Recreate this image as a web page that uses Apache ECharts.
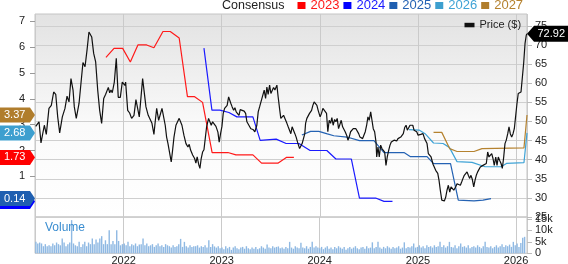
<!DOCTYPE html>
<html>
<head>
<meta charset="utf-8">
<script src="https://cdn.jsdelivr.net/npm/echarts@6/dist/echarts.min.js"></script>
<style>html,body{margin:0;padding:0;background:#fff}#c{width:568px;height:264px}</style>
</head>
<body>
<div id="c"></div>
<script>
// x positions are decimal years (e.g. 2022.5 = mid 2022)
const priceData = [[2021.109,48.7],[2021.143,49.9],[2021.163,44.4],[2021.197,49.0],[2021.217,46.6],[2021.244,53.4],[2021.268,54.2],[2021.292,57.7],[2021.313,57.1],[2021.333,51.2],[2021.353,47.0],[2021.380,51.2],[2021.407,53.4],[2021.428,56.6],[2021.448,55.1],[2021.468,61.2],[2021.489,58.2],[2021.502,53.8],[2021.522,50.8],[2021.550,54.7],[2021.563,54.2],[2021.590,65.4],[2021.611,64.3],[2021.631,68.6],[2021.651,73.4],[2021.665,73.7],[2021.679,72.1],[2021.699,67.8],[2021.719,65.6],[2021.740,58.2],[2021.760,52.9],[2021.780,49.5],[2021.801,56.0],[2021.821,57.1],[2021.848,58.9],[2021.862,57.5],[2021.875,58.2],[2021.888,57.5],[2021.909,60.3],[2021.929,66.5],[2021.949,56.3],[2021.970,56.3],[2021.990,60.3],[2022.004,60.6],[2022.017,59.4],[2022.024,60.3],[2022.045,52.9],[2022.065,52.2],[2022.085,50.8],[2022.109,51.6],[2022.129,55.7],[2022.142,56.0],[2022.163,51.2],[2022.183,51.0],[2022.197,61.2],[2022.211,60.8],[2022.231,53.8],[2022.254,51.6],[2022.272,52.1],[2022.292,49.5],[2022.312,46.6],[2022.325,49.9],[2022.340,53.4],[2022.360,50.3],[2022.373,50.3],[2022.394,53.4],[2022.407,52.9],[2022.427,49.0],[2022.441,45.9],[2022.455,44.2],[2022.468,44.6],[2022.488,39.4],[2022.502,42.5],[2022.516,45.9],[2022.536,49.0],[2022.556,48.6],[2022.569,50.8],[2022.584,50.5],[2022.597,49.0],[2022.617,46.4],[2022.638,44.2],[2022.658,43.3],[2022.671,44.0],[2022.685,42.5],[2022.706,41.2],[2022.726,40.3],[2022.739,39.1],[2022.752,40.7],[2022.767,38.8],[2022.780,37.7],[2022.793,40.3],[2022.807,42.0],[2022.821,42.6],[2022.834,45.5],[2022.848,48.6],[2022.868,50.8],[2022.882,50.3],[2022.895,49.0],[2022.909,49.9],[2022.929,49.5],[2022.943,48.7],[2022.963,47.2],[2022.976,44.6],[2022.990,46.8],[2023.004,48.7],[2023.017,52.1],[2023.031,53.4],[2023.044,52.9],[2023.057,54.2],[2023.072,56.4],[2023.082,56.6],[2023.095,54.7],[2023.108,53.8],[2023.123,52.9],[2023.136,53.6],[2023.149,52.5],[2023.163,52.9],[2023.177,51.6],[2023.190,53.1],[2023.210,52.9],[2023.230,52.7],[2023.245,52.1],[2023.258,49.9],[2023.278,49.0],[2023.298,48.1],[2023.319,47.9],[2023.339,47.3],[2023.359,49.0],[2023.373,52.5],[2023.387,53.8],[2023.407,54.2],[2023.420,56.9],[2023.434,58.2],[2023.448,56.0],[2023.461,59.0],[2023.474,57.1],[2023.489,59.5],[2023.502,57.3],[2023.515,57.7],[2023.529,58.9],[2023.543,58.2],[2023.563,59.5],[2023.576,56.4],[2023.590,53.4],[2023.603,50.8],[2023.617,50.3],[2023.631,51.6],[2023.651,51.2],[2023.665,49.5],[2023.678,48.6],[2023.692,48.1],[2023.705,46.8],[2023.718,48.6],[2023.733,48.1],[2023.746,46.8],[2023.759,45.9],[2023.773,44.6],[2023.794,42.9],[2023.807,42.5],[2023.820,44.2],[2023.834,44.6],[2023.847,46.8],[2023.855,49.5],[2023.868,50.8],[2023.881,50.5],[2023.895,52.1],[2023.916,52.9],[2023.929,54.2],[2023.942,55.1],[2023.956,55.5],[2023.970,54.2],[2023.983,52.9],[2024.003,51.2],[2024.017,52.1],[2024.031,53.4],[2024.051,53.3],[2024.068,52.1],[2024.081,47.3],[2024.095,50.3],[2024.109,49.5],[2024.122,51.0],[2024.135,49.0],[2024.150,50.5],[2024.163,49.9],[2024.176,50.8],[2024.190,48.1],[2024.203,47.7],[2024.217,50.3],[2024.231,48.6],[2024.244,49.0],[2024.257,47.3],[2024.272,46.4],[2024.285,45.1],[2024.298,45.9],[2024.312,47.3],[2024.325,47.7],[2024.339,48.1],[2024.353,47.7],[2024.366,48.1],[2024.379,47.7],[2024.394,46.8],[2024.407,45.9],[2024.420,45.5],[2024.434,45.5],[2024.447,46.4],[2024.461,47.3],[2024.475,49.0],[2024.488,51.2],[2024.501,50.3],[2024.516,52.5],[2024.529,50.3],[2024.542,48.1],[2024.556,47.3],[2024.570,44.6],[2024.577,40.7],[2024.590,43.3],[2024.603,40.7],[2024.617,43.8],[2024.630,42.9],[2024.644,43.3],[2024.658,42.0],[2024.671,38.5],[2024.684,40.7],[2024.699,42.5],[2024.712,43.8],[2024.725,44.6],[2024.739,44.6],[2024.753,45.1],[2024.766,45.5],[2024.780,44.9],[2024.793,45.5],[2024.806,45.3],[2024.821,45.9],[2024.834,45.5],[2024.847,46.8],[2024.861,48.4],[2024.875,49.0],[2024.888,47.7],[2024.902,48.1],[2024.915,49.0],[2024.928,49.5],[2024.943,49.0],[2024.956,47.7],[2024.969,48.1],[2024.983,47.3],[2024.997,46.4],[2025.010,46.8],[2025.024,46.6],[2025.032,47.0],[2025.047,46.8],[2025.063,45.5],[2025.088,44.2],[2025.101,41.6],[2025.115,42.0],[2025.129,40.7],[2025.149,38.8],[2025.162,38.5],[2025.176,37.2],[2025.197,36.4],[2025.210,34.6],[2025.223,32.0],[2025.238,29.4],[2025.251,29.8],[2025.264,29.2],[2025.278,30.2],[2025.291,32.0],[2025.305,33.3],[2025.319,31.5],[2025.332,32.9],[2025.345,33.0],[2025.360,32.0],[2025.380,32.9],[2025.393,33.7],[2025.413,33.9],[2025.427,33.3],[2025.441,34.2],[2025.454,35.1],[2025.467,35.9],[2025.482,36.4],[2025.495,36.8],[2025.508,35.9],[2025.522,35.1],[2025.535,35.9],[2025.549,34.8],[2025.563,32.9],[2025.576,34.6],[2025.589,35.9],[2025.603,36.8],[2025.617,37.2],[2025.630,38.1],[2025.644,37.7],[2025.657,38.5],[2025.671,38.8],[2025.691,39.0],[2025.705,42.0],[2025.718,40.7],[2025.732,40.3],[2025.746,41.6],[2025.759,40.3],[2025.772,38.5],[2025.787,40.7],[2025.800,38.5],[2025.813,40.7],[2025.827,39.8],[2025.841,39.0],[2025.854,37.7],[2025.868,40.7],[2025.881,44.2],[2025.894,45.1],[2025.909,46.8],[2025.922,48.6],[2025.935,46.8],[2025.949,45.9],[2025.963,46.8],[2025.976,48.1],[2025.990,48.6],[2026.003,54.7],[2026.016,57.3],[2026.031,57.7],[2026.044,57.7],[2026.057,57.3],[2026.071,65.2],[2026.085,70.4],[2026.098,72.6],[2026.105,72.92]];

const eps2023 = [[2021.824,5.60],[2021.906,5.95],[2021.994,5.95],[2022.072,5.42],[2022.149,6.08],[2022.238,6.08],[2022.312,5.97],[2022.404,6.60],[2022.478,6.60],[2022.569,6.35],[2022.653,4.08],[2022.726,4.08],[2022.807,3.86],[2022.904,1.92],[2023.065,1.92],[2023.146,1.83],[2023.319,1.83],[2023.407,1.51],[2023.573,1.51],[2023.659,1.73],[2023.736,1.73]];
const eps2024 = [[2022.821,5.96],[2022.902,3.56],[2022.983,3.56],[2023.075,3.47],[2023.156,3.30],[2023.319,3.30],[2023.393,2.39],[2023.556,2.44],[2023.657,2.27],[2023.787,2.27],[2023.901,2.00],[2024.071,2.00],[2024.163,1.67],[2024.320,1.67],[2024.402,0.16],[2024.566,0.16],[2024.651,0.03],[2024.737,0.03]];
const eps2025 = [[2023.817,2.60],[2023.906,2.74],[2023.990,2.74],[2024.076,2.64],[2024.142,2.57],[2024.275,2.52],[2024.402,2.38],[2024.549,2.38],[2024.651,1.92],[2024.854,1.92],[2024.920,1.76],[2025.088,1.76],[2025.154,1.49],[2025.327,1.49],[2025.406,0.08],[2025.566,0.05],[2025.657,0.08],[2025.739,0.14]];
const eps2026 = [[2024.905,2.81],[2025.007,2.79],[2025.068,2.65],[2025.154,2.29],[2025.251,2.27],[2025.315,2.12],[2025.393,1.57],[2025.546,1.54],[2025.678,1.37],[2025.841,1.37],[2025.896,1.50],[2026.074,1.53],[2026.105,2.68]];
const eps2027 = [[2025.154,2.70],[2025.238,2.70],[2025.319,2.07],[2025.393,1.96],[2025.566,1.96],[2025.647,2.07],[2026.074,2.10],[2026.105,3.37]];

const volumeStart = '2021-02-08'; // weekly bars
const volumeK = [5.0,4.3,4.7,4.3,3.1,4.0,3.1,3.5,3.1,4.3,3.5,4.7,4.0,3.5,6.5,4.7,3.1,4.0,4.7,14.5,4.3,3.5,3.1,5.0,2.8,4.0,5.0,3.1,4.7,4.0,6.5,4.0,6.0,4.7,6.5,7.5,4.0,5.7,4.0,10.1,4.0,5.4,4.0,10.1,5.4,3.5,4.0,
4.3,3.5,5.0,3.1,4.0,3.5,4.3,3.1,3.8,4.0,6.5,3.5,4.3,3.1,3.5,4.0,2.8,3.5,4.3,3.1,3.5,2.8,4.0,3.5,3.1,2.5,3.5,2.8,3.1,4.0,6.3,2.8,5.0,3.1,2.5,3.5,2.8,3.1,3.1,3.5,2.5,3.1,2.8,3.5,2.5,5.7,2.8,4.0,3.0,2.5,3.1,2.2,
2.5,1.8,3.1,2.2,2.8,1.5,2.5,3.1,2.2,1.8,2.5,2.8,2.0,3.1,2.2,1.8,2.5,2.0,2.8,1.8,2.2,3.1,2.5,2.0,3.8,2.5,2.2,3.1,2.5,2.8,3.0,2.2,2.5,2.0,2.8,2.2,5.0,2.5,2.0,3.1,2.5,2.2,4.6,2.5,2.2,3.1,2.0,2.8,5.0,2.5,3.1,2.5,
2.2,2.8,1.8,2.5,3.1,2.0,2.5,1.8,2.8,2.2,3.1,2.5,2.0,2.8,1.5,2.2,2.8,2.0,2.5,3.1,2.2,1.8,2.5,2.8,2.0,3.1,2.2,2.5,4.8,2.2,2.8,5.0,2.5,2.0,2.8,2.2,3.1,2.5,2.0,2.8,2.2,2.5,3.1,2.0,2.5,4.8,2.2,2.8,2.5,3.1,4.3,2.5,
2.8,3.5,2.5,3.1,2.2,3.5,2.8,3.1,2.5,3.5,2.8,3.1,5.0,2.8,3.5,2.5,3.1,5.0,2.8,2.5,3.5,2.2,3.1,4.3,2.8,3.1,2.5,3.5,2.2,2.8,3.1,2.5,3.5,2.8,2.2,3.1,5.0,2.8,2.5,3.1,2.2,2.8,3.5,2.5,3.1,4.0,2.8,3.5,3.1,3.8,2.8,5.0,
3.5,4.3,2.8,4.5,6.8,7.2];

const seriesNames = ['2023','2024','2025','2026','2027'];
const seriesColors = ['#ff1a1a','#1a1aff','#2462b3','#3fa3d6','#b5822f'];
const tagColors = ['#ff0000','#0000ff','#1f5fb0','#3d9fcf','#b07d2c'];
const epsTicks = [1,2,3,4,5,6,7];
const priceTicks = [25,30,35,40,45,50,55,60,65,70,75];
const volTicks = [0,5,10,15];
const volTickLabels = ['0','5k','10k','15k'];
const xStart = 2021.102, xEnd = 2026.105;

function ts(y){ const Y=Math.floor(y); const a=Date.UTC(Y,0,1), b=Date.UTC(Y+1,0,1); return a+(y-Y)*(b-a); }
const toTs = arr => arr.map(p => [ts(p[0]), p[1]]);
const v0 = Date.parse(volumeStart+'T00:00:00Z');
const volData = volumeK.map((v,i) => [v0 + i*7*86400000, v]);

const chart = echarts.init(document.getElementById('c'), null, {renderer:'canvas'});
const FONT = 'Liberation Sans, Arial, sans-serif';
const epsList = [eps2023, eps2024, eps2025, eps2026, eps2027];

// pixel scale of panels
const PRICE_TOP = 14, PRICE_H = 203, PRICE_MIN = 25, PRICE_MAX = 78.1;
const pxPerPrice = PRICE_H / (PRICE_MAX - PRICE_MIN);
const VOL_TOP = 217, VOL_H = 36.3, VOL_MAX = 15.87;
const pxPerVol = VOL_H / VOL_MAX;
const EPS_ZERO = 202.2, pxPerEps = 25.86;

const G = {left:35, right:41, outerBoundsMode:'none', containLabel:false};
const xBase = {type:'time', min: ts(xStart), max: ts(xEnd), splitNumber:5, minInterval: 365*86400000};
const lblStyle = {fontSize:11, color:'#222', fontFamily:FONT};
const option = {
  animation:false,
  useUTC:true,
  textStyle:{fontFamily:FONT},
  grid:[
    Object.assign({top:PRICE_TOP, height:PRICE_H, show:true, borderColor:'#c4c4c4', borderWidth:1,
     backgroundColor:new echarts.graphic.LinearGradient(0,0,0,1,[{offset:0,color:'#e2e2e2'},{offset:0.55,color:'#fafafa'},{offset:1,color:'#ffffff'}])}, G),
    Object.assign({top:VOL_TOP, height:VOL_H, show:true, borderColor:'#c4c4c4', borderWidth:1, backgroundColor:'#fff'}, G),
    // EPS axis: extent -1..8
    Object.assign({top:EPS_ZERO - 8*pxPerEps, height:9*pxPerEps, show:false}, G),
    // price label axis: extent 20..80
    Object.assign({top:PRICE_TOP + PRICE_H - (80-PRICE_MIN)*pxPerPrice, height:60*pxPerPrice, show:false}, G),
    // volume label axis: extent -5..20
    Object.assign({top:VOL_TOP + VOL_H - 20*pxPerVol, height:25*pxPerVol, show:false}, G)
  ],
  xAxis:[
    Object.assign({gridIndex:0, axisLine:{show:false}, axisTick:{show:false}, axisLabel:{show:false},
      splitLine:{show:true, lineStyle:{color:'#cacaca'}}}, xBase),
    Object.assign({gridIndex:1, axisLine:{show:false}, axisTick:{show:false},
      axisLabel:Object.assign({show:true, margin:2.5, showMinLabel:false, showMaxLabel:false,
        formatter:v=>{const d=new Date(v); return (d.getUTCMonth()===0 && d.getUTCDate()===1)? String(d.getUTCFullYear()) : '';}}, lblStyle),
      splitLine:{show:true, lineStyle:{color:'#cacaca'}}}, xBase),
    Object.assign({gridIndex:2, show:false}, xBase),
    Object.assign({gridIndex:3, show:false}, xBase),
    Object.assign({gridIndex:4, show:false}, xBase)
  ],
  yAxis:[
    {type:'value', gridIndex:0, position:'right', min:PRICE_MIN, max:PRICE_MAX, interval:5,
     axisLine:{show:false}, axisTick:{show:true, length:5, lineStyle:{color:'#bbb'}, customValues:priceTicks},
     axisLabel:{show:false},
     splitLine:{show:true, lineStyle:{color:'#cfcfcf'}}},
    {type:'value', gridIndex:1, position:'right', min:0, max:VOL_MAX, interval:5,
     axisLine:{show:false}, axisTick:{show:true, length:5, lineStyle:{color:'#bbb'}, customValues:volTicks},
     axisLabel:{show:false}, splitLine:{show:false}},
    {type:'value', gridIndex:2, position:'left', min:-1, max:8, interval:1,
     axisLine:{show:false}, axisTick:{show:true, length:5, lineStyle:{color:'#999'}, customValues:epsTicks},
     axisLabel:Object.assign({margin:10, customValues:epsTicks, formatter:v=>epsTicks.includes(v)?String(v):''}, lblStyle),
     splitLine:{show:false}},
    {type:'value', gridIndex:3, position:'right', min:20, max:80, interval:5,
     axisLine:{show:false}, axisTick:{show:false},
     axisLabel:Object.assign({margin:8, formatter:v=>priceTicks.includes(v)?String(v):''}, lblStyle),
     splitLine:{show:false}},
    {type:'value', gridIndex:4, position:'right', min:-5, max:20, interval:5,
     axisLine:{show:false}, axisTick:{show:false},
     axisLabel:Object.assign({margin:8, formatter:v=>{const k=volTicks.indexOf(v); return k>=0?volTickLabels[k]:'';}}, lblStyle),
     splitLine:{show:false}}
  ],
  legend:{
    left:297.5, top:-1, padding:0, itemGap:4, itemWidth:8, itemHeight:7, icon:'rect', selectedMode:false,
    textStyle:{fontSize:13, fontFamily:FONT},
    data: seriesNames.map((n,i)=>({name:n, itemStyle:{color:tagColors[i]}, textStyle:{color:seriesColors[i]}}))
  },
  series:[
    {type:'bar', name:'Volume', xAxisIndex:1, yAxisIndex:1, data:volData, barWidth:1.4, itemStyle:{color:'#8fb9e3'}, silent:true},
    ...epsList.map((d,i)=>({type:'line', name:seriesNames[i], xAxisIndex:2, yAxisIndex:2, data:toTs(d), symbol:'none',
      lineStyle:{width:1.2, color:seriesColors[i]}, itemStyle:{color:seriesColors[i]}, z:3, silent:true})),
    {type:'line', name:'Price ($)', xAxisIndex:0, yAxisIndex:0, data:toTs(priceData), symbol:'none',
      lineStyle:{width:1.2, color:'#111'}, itemStyle:{color:'#111'}, z:5, silent:true}
  ]
};
chart.setOption(option);

// Annotation graphics positioned through the axes' scales
const g = [];
g.push({type:'text', left:222, top:-1, style:{text:'Consensus', fontSize:12.5, fontFamily:FONT, fill:'#222'}});
g.push({type:'text', left:45, top:222, style:{text:'Volume', fontSize:12, fontFamily:FONT, fill:'#3a8dd0'}, z:10});
g.push({type:'rect', shape:{x:464.5, y:22.8, width:10, height:4.5}, style:{fill:'#111'}, z:10});
g.push({type:'text', x:479.5, y:25.3, style:{text:'Price ($)', fontSize:11, fontFamily:FONT, fill:'#222', textVerticalAlign:'middle'}, z:10});

const tagOrder = [1,2,0,3,4];
tagOrder.forEach((i,k)=>{
  const d = epsList[i]; const val = d[d.length-1][1];
  const y = chart.convertToPixel({yAxisIndex:2}, val);
  g.push({type:'polygon', shape:{points:[[0,y-7.5],[30,y-7.5],[35,y],[30,y+7.5],[0,y+7.5]]}, style:{fill:tagColors[i]}, z:20+2*k});
  g.push({type:'text', x:4, y:y, style:{text:val.toFixed(2), fontSize:11, fontFamily:FONT, fill:'#fff', textVerticalAlign:'middle'}, z:21+2*k});
});
const lastPrice = priceData[priceData.length-1][1];
const py = chart.convertToPixel({yAxisIndex:0}, lastPrice);
g.push({type:'polygon', shape:{points:[[527,py],[534,py-8],[568,py-8],[568,py+8],[534,py+8]]}, style:{fill:'#000'}, z:40});
g.push({type:'text', x:537.5, y:py, style:{text:lastPrice.toFixed(2), fontSize:11, fontFamily:FONT, fill:'#fff', textVerticalAlign:'middle'}, z:41});
chart.setOption({graphic:g});
</script>
</body>
</html>
